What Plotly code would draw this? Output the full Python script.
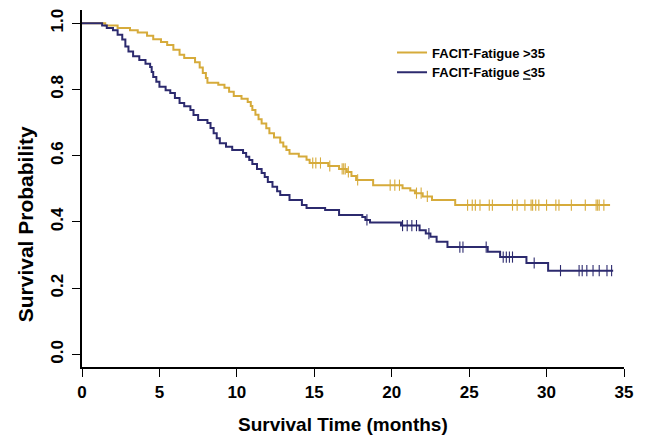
import numpy as np
import plotly.graph_objects as go

# ---- data (Kaplan-Meier estimates) ----
hi_name = "FACIT-Fatigue >35"
hi_time = [0, 1.5, 2.3, 3.1, 3.6, 4.2, 4.6, 5.1, 5.5, 5.9, 6.3, 6.6, 7.3, 7.6, 7.8, 8.0, 8.1,
           8.8, 9.2, 9.5, 9.8, 10.3, 10.7, 10.9, 11.0, 11.2, 11.4, 11.6, 11.9, 12.1, 12.4,
           12.8, 13.0, 13.2, 13.4, 14.0, 14.5, 14.7, 15.9, 16.6, 17.1, 17.4, 17.7, 18.8,
           20.7, 21.2, 21.5, 22.0, 22.6, 24.1, 34.1]
hi_surv = [1.0, 0.993, 0.986, 0.979, 0.972, 0.962, 0.952, 0.943, 0.934, 0.92, 0.905, 0.895,
           0.882, 0.866, 0.85, 0.835, 0.82, 0.814, 0.805, 0.793, 0.78, 0.772, 0.762, 0.75,
           0.738, 0.724, 0.71, 0.697, 0.683, 0.668, 0.655, 0.64, 0.628, 0.617, 0.606, 0.598,
           0.588, 0.578, 0.569, 0.56, 0.551, 0.539, 0.527, 0.511, 0.502, 0.495, 0.487,
           0.477, 0.466, 0.451, 0.451]
hi_cens = [14.9, 15.1, 15.4, 16.0, 16.8, 16.9, 17.0, 17.2, 17.8, 19.9, 20.2, 20.5, 21.6,
           21.9, 22.3, 24.9, 25.2, 25.4, 25.7, 26.3, 26.5, 27.8, 28.1, 28.6, 29.0, 29.1,
           29.3, 29.5, 30.0, 30.6, 30.8, 31.6, 32.5, 33.2, 33.3, 33.4, 33.7]

lo_name = "FACIT-Fatigue <u>&lt;</u>35"
lo_time = [0, 1.3, 1.6, 2.0, 2.3, 2.6, 2.8, 3.0, 3.3, 3.7, 4.1, 4.4, 4.5, 4.6, 4.8, 5.0,
           5.4, 5.7, 6.0, 6.3, 6.6, 7.0, 7.2, 7.5, 8.1, 8.3, 8.5, 8.7, 8.9, 9.3, 9.7, 10.4,
           10.6, 10.8, 11.0, 11.3, 11.6, 11.8, 12.0, 12.3, 12.6, 12.8, 13.4, 14.2, 14.5,
           15.7, 16.6, 18.1, 18.3, 18.6, 20.6, 21.8, 22.2, 22.5, 22.9, 23.6, 26.2, 27.0,
           28.7, 30.1, 34.3]
lo_surv = [1.0, 0.993, 0.986, 0.979, 0.965, 0.951, 0.93, 0.915, 0.9, 0.889, 0.878, 0.868,
           0.853, 0.838, 0.823, 0.808, 0.798, 0.789, 0.774, 0.759, 0.749, 0.738, 0.723,
           0.708, 0.699, 0.684, 0.668, 0.653, 0.638, 0.627, 0.617, 0.608, 0.597, 0.587,
           0.575, 0.56, 0.548, 0.536, 0.521, 0.506, 0.493, 0.481, 0.466, 0.451, 0.442,
           0.436, 0.421, 0.415, 0.406, 0.398, 0.389, 0.375, 0.365, 0.355, 0.34, 0.324,
           0.31, 0.294, 0.276, 0.253, 0.253]
lo_cens = [18.4, 20.7, 21.0, 21.3, 21.6, 22.4, 24.4, 24.6, 26.1, 27.2, 27.4, 27.6, 27.8,
           29.2, 30.9, 32.1, 32.3, 32.6, 33.0, 33.4, 33.9, 34.2]

x_ticks = [0, 5, 10, 15, 20, 25, 30, 35]
y_ticks = [0.0, 0.2, 0.4, 0.6, 0.8, 1.0]

hi_color = "#d6ab3b"
lo_color = "#2c2a6e"


def step_at(times, surv, ts):
    idx = np.searchsorted(np.asarray(times), np.asarray(ts), side="right") - 1
    return [surv[i] for i in idx]


fig = go.Figure()
for name, t, s, c, col in [(hi_name, hi_time, hi_surv, hi_cens, hi_color),
                           (lo_name, lo_time, lo_surv, lo_cens, lo_color)]:
    fig.add_trace(go.Scatter(x=t, y=s, mode="lines", name=name,
                             line=dict(shape="hv", color=col, width=2)))
    fig.add_trace(go.Scatter(x=c, y=step_at(t, s, c), mode="markers", showlegend=False,
                             marker=dict(symbol="line-ns", size=8,
                                         line=dict(color=col, width=1.1))))

font_family = "Liberation Sans, Arial, sans-serif"
axis_common = dict(showline=True, linecolor="black", linewidth=1.6, ticks="outside",
                   ticklen=8, tickwidth=1.4, tickcolor="black", showgrid=False,
                   zeroline=False, mirror=False, automargin=False,
                   tickfont=dict(family=font_family, size=17, color="black", weight="bold"))

fig.update_xaxes(range=[0, 35], tickvals=x_ticks, ticklabelstandoff=1, **axis_common)
fig.update_yaxes(range=[-0.038, 1.04], tickvals=y_ticks, tickformat=".1f",
                 tickangle=-90, ticklabelstandoff=2, **axis_common)

fig.add_annotation(text="Survival Probability", xref="paper", yref="paper",
                   x=-0.105, y=0.40, textangle=-90, showarrow=False,
                   xanchor="center", yanchor="middle",
                   font=dict(family=font_family, size=21, color="black", weight="bold"))
fig.add_annotation(text="Survival Time (months)", xref="paper", yref="paper",
                   x=0.4815, y=-0.162, showarrow=False, xanchor="center", yanchor="middle",
                   font=dict(family=font_family, size=19, color="black", weight="bold"))

fig.update_layout(
    width=646, height=437,
    margin=dict(l=82, r=22, t=10, b=70, autoexpand=False),
    plot_bgcolor="white", paper_bgcolor="white",
    legend=dict(x=0.572, y=0.923, xanchor="left", yanchor="top",
                bgcolor="rgba(0,0,0,0)", tracegroupgap=0,
                font=dict(family=font_family, size=13, color="black", weight="bold")),
)

fig.write_html("out.html", config={"displayModeBar": False},
               post_script="document.body.style.margin='0px';"
                           "document.body.style.padding='0px';")
